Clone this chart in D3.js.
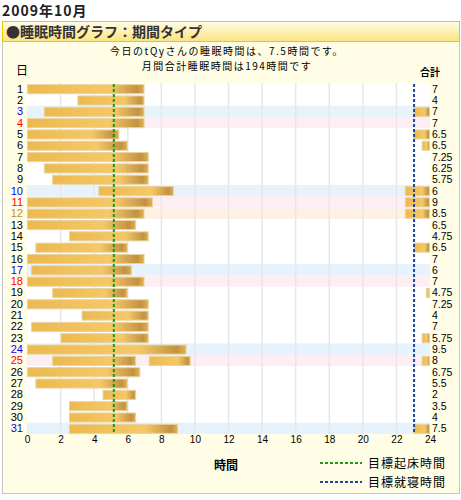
<!DOCTYPE html>
<html>
<head>
<meta charset="utf-8">
<script src="https://cdn.jsdelivr.net/npm/d3@7"></script>
<style>
  body { margin: 0; background: #fff; }
  text { font-family: "Noto Sans CJK JP", sans-serif; }
  .num { font-family: "Liberation Sans", "DejaVu Sans", sans-serif; }
</style>
</head>
<body>
<div id="chart"></div>
<script>
// sleep data, October 2009 (hours on a 0-24 clock)
const days = [1, 2, 3, 4, 5, 6, 7, 8, 9, 10, 11, 12, 13, 14, 15, 16,
              17, 18, 19, 20, 21, 22, 23, 24, 25, 26, 27, 28, 29, 30, 31];
const segments = [
    [[0, 7]], [[3, 7]], [[1, 7], [23, 24]], [[0, 7]], [[0, 5.5], [23, 24]],
    [[0, 6], [23.5, 24]], [[0, 7.25]], [[1, 7.25]], [[1.5, 7.25]], [[4.25, 8.75], [22.5, 24]],
    [[0, 7.5], [22.5, 24]], [[0, 7], [22.5, 24]], [[0, 6.5]], [[2.5, 7.25]], [[0.5, 6], [23, 24]],
    [[0, 7]], [[0.25, 6.25]], [[0, 7]], [[1.5, 6], [23.75, 24]], [[0, 7.25]],
    [[3.25, 7.25]], [[0.25, 7.25]], [[2, 7.25], [23.5, 24]], [[0, 9.5]], [[1.5, 6.5], [7.25, 9.75], [23.5, 24]],
    [[0, 6.75]], [[0.5, 6]], [[4.5, 6.5]], [[2.5, 6]], [[2.5, 6.5]], [[2.5, 9], [23, 24]]
];
const totals = ["7", "4", "7", "7", "6.5", "6.5", "7.25", "6.25", "5.75", "6", "9", "8.5", "6.5", "4.75", "6.5", "7",
                "6", "7", "4.75", "7.25", "4", "7", "5.75", "9.5", "8", "6.75", "5.5", "2", "3.5", "4", "7.5"];
const saturdays = [3, 10, 17, 24, 31];
const sundays = [4, 11, 18, 25];
const holidays = [12];
const xTicks = [0, 2, 4, 6, 8, 10, 12, 14, 16, 18, 20, 22, 24];
const wakeGoal = 5.17;
const bedGoal = 23.05;

const W = 461, H = 500;
const svg = d3.select("#chart").append("svg")
    .attr("width", W).attr("height", H);

const defs = svg.append("defs");
let hg = defs.append("linearGradient").attr("id", "hdr")
    .attr("x1", 0).attr("y1", 0).attr("x2", 0).attr("y2", 1);
hg.append("stop").attr("offset", "0%").attr("stop-color", "#fffce8");
hg.append("stop").attr("offset", "100%").attr("stop-color", "#fbe47e");

let bg = defs.append("linearGradient").attr("id", "bar")
    .attr("x1", 0).attr("y1", 0).attr("x2", 1).attr("y2", 0);
bg.append("stop").attr("offset", "0%").attr("stop-color", "#ecb94f");
bg.append("stop").attr("offset", "70%").attr("stop-color", "#f5c866");
bg.append("stop").attr("offset", "94%").attr("stop-color", "#c29243");
bg.append("stop").attr("offset", "100%").attr("stop-color", "#e0b24e");

// title + frame
svg.append("text").attr("x", 2).attr("y", 16)
    .style("font-size", "14px").style("font-weight", "bold").style("letter-spacing", "1px")
    .attr("fill", "#222").text("2009年10月");

svg.append("rect").attr("x", 2.5).attr("y", 41.5).attr("width", 457).attr("height", 452)
    .attr("fill", "#fffde6").attr("stroke", "#c6c6c6");
svg.append("rect").attr("x", 2.5).attr("y", 21.5).attr("width", 457).attr("height", 20)
    .attr("fill", "url(#hdr)").attr("stroke", "#f2c400");
svg.append("text").attr("x", 6).attr("y", 37)
    .style("font-size", "14px").style("font-weight", "bold")
    .attr("fill", "#333").text("●睡眠時間グラフ：期間タイプ");

svg.append("text").attr("x", 227).attr("y", 55).attr("text-anchor", "middle")
    .style("font-size", "10px").style("letter-spacing", "1.5px").attr("fill", "#000")
    .text("今日のtQyさんの睡眠時間は、7.5時間です。");
svg.append("text").attr("x", 227).attr("y", 70).attr("text-anchor", "middle")
    .style("font-size", "10px").style("letter-spacing", "1.5px").attr("fill", "#000")
    .text("月間合計睡眠時間は194時間です");
svg.append("text").attr("x", 22).attr("y", 75).attr("text-anchor", "middle")
    .style("font-size", "12px").attr("fill", "#000").text("日");
svg.append("text").attr("x", 430).attr("y", 76).attr("text-anchor", "middle")
    .style("font-size", "10px").style("font-weight", "bold").attr("fill", "#000").text("合計");

// scales
let x = d3.scaleLinear().domain([0, 24]).range([27, 430]);
let y = d3.scaleBand().domain(days).range([83, 434]).paddingInner(0.2).paddingOuter(0.1);
let step = y.step();

function dayColor(d) {
    if (saturdays.includes(d)) return "#0000ff";
    if (sundays.includes(d)) return "#ff0000";
    if (holidays.includes(d)) return "#c0902c";
    return "#000";
}
function rowFill(d) {
    if (saturdays.includes(d)) return "#e6f2fc";
    if (sundays.includes(d)) return "#fdeef3";
    if (holidays.includes(d)) return "#fdf0e4";
    return "#fff";
}

let plot = svg.append("g");
plot.append("rect").attr("x", x(0)).attr("y", 83).attr("width", x(24) - x(0)).attr("height", 434 - 83)
    .attr("fill", "#fff");
plot.selectAll(".row").data(days).join("rect").attr("class", "row")
    .attr("x", x(0)).attr("width", x(24) - x(0))
    .attr("y", d => y(d) + y.bandwidth() / 2 - step / 2).attr("height", step)
    .attr("fill", d => rowFill(d));

// vertical grid
plot.selectAll(".grid").data(xTicks.slice(1, -1)).join("line").attr("class", "grid")
    .attr("x1", d => x(d)).attr("x2", d => x(d))
    .attr("y1", 83).attr("y2", 434)
    .attr("stroke", "#e9e6ea").attr("stroke-width", 1.5);

// bars
days.forEach((d, i) => {
    plot.selectAll(".bar" + d).data(segments[i]).join("rect")
        .attr("x", s => x(s[0]) + 0.5)
        .attr("y", y(d) + 0.5)
        .attr("width", s => x(s[1]) - x(s[0]) - 1)
        .attr("height", y.bandwidth())
        .attr("fill", "url(#bar)")
        .attr("stroke", "#e7d3a2").attr("stroke-width", 1);
});

// goal lines
plot.append("line").attr("x1", x(wakeGoal)).attr("x2", x(wakeGoal)).attr("y1", 84).attr("y2", 434)
    .attr("stroke", "#1a9a1a").attr("stroke-width", 2).attr("stroke-dasharray", "3,2");
plot.append("line").attr("x1", x(bedGoal)).attr("x2", x(bedGoal)).attr("y1", 84).attr("y2", 434)
    .attr("stroke", "#1a46a6").attr("stroke-width", 2).attr("stroke-dasharray", "3,2");

// day labels
svg.selectAll(".day").data(days).join("text").attr("class", "day num")
    .attr("x", 23).attr("y", d => y(d) + y.bandwidth() / 2 + 4)
    .attr("text-anchor", "end").style("font-size", "11px")
    .attr("fill", d => dayColor(d)).text(d => d);

// totals
svg.selectAll(".tot").data(days).join("text").attr("class", "tot num")
    .attr("x", 432).attr("y", d => y(d) + y.bandwidth() / 2 + 4)
    .style("font-size", "10.5px").attr("fill", "#000")
    .text((d, i) => totals[i]);

// x axis
let ax = svg.append("g").attr("transform", "translate(0,436)")
    .call(d3.axisBottom(x).tickValues(xTicks).tickSize(0).tickPadding(0));
ax.select(".domain").remove();
ax.selectAll("text").attr("class", "num").style("font-size", "10px").attr("fill", "#000").attr("dy", "0.71em");

svg.append("text").attr("x", 226).attr("y", 470).attr("text-anchor", "middle")
    .style("font-size", "12px").style("font-weight", "bold").attr("fill", "#000").text("時間");

// legend
let legend = [
    { label: "目標起床時間", color: "#1a9a1a", y: 463 },
    { label: "目標就寝時間", color: "#1a46a6", y: 482 }
];
legend.forEach(l => {
    svg.append("line").attr("x1", 320).attr("x2", 362).attr("y1", l.y).attr("y2", l.y)
        .attr("stroke", l.color).attr("stroke-width", 2).attr("stroke-dasharray", "3,2");
    svg.append("text").attr("x", 368).attr("y", l.y + 5)
        .style("font-size", "12px").style("letter-spacing", "1px").attr("fill", "#000").text(l.label);
});
</script>
</body>
</html>
